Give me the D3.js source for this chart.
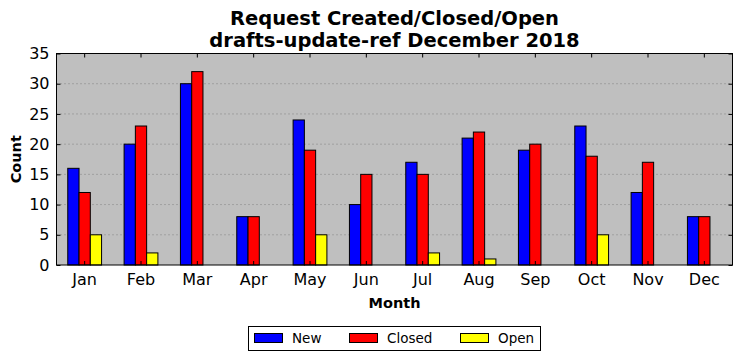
<!DOCTYPE html>
<html><head><meta charset="utf-8">
<script src="https://cdn.jsdelivr.net/npm/d3@7"></script>
<style>body{margin:0;background:#fff;} svg{display:block;font-family:"DejaVu Sans",sans-serif;}</style>
</head><body>
<script>
const months = ["Jan","Feb","Mar","Apr","May","Jun","Jul","Aug","Sep","Oct","Nov","Dec"];
const newVals = [16,20,30,8,24,10,17,21,19,23,12,8];
const closedVals = [12,23,32,8,19,15,15,22,20,18,17,8];
const openVals = [5,2,0,0,5,0,2,1,0,5,0,0];
const seriesNames = ["New","Closed","Open"];
const seriesColors = ["#0000ff","#ff0000","#ffff00"];
const yTicks = [0,5,10,15,20,25,30,35];
const titleLines = ["Request Created/Closed/Open","drafts-update-ref December 2018"];

(function(){
const W=742,H=361;
const m={l:56.5,r:9.5,t:53.5,b:96};
const svg=d3.select("body").append("svg").attr("width",W).attr("height",H);
const pw=W-m.l-m.r, ph=H-m.t-m.b;
const x=d3.scaleBand().domain(months).range([m.l,m.l+pw]).padding(0);
const y=d3.scaleLinear().domain([0,35]).range([m.t+ph,m.t]);
const sub=d3.scaleBand().domain(seriesNames).range([x.bandwidth()*0.2,x.bandwidth()*0.8]).padding(0);

svg.append("rect").attr("x",m.l).attr("y",m.t).attr("width",pw).attr("height",ph).attr("fill","#bfbfbf");
svg.append("g").selectAll("line").data(yTicks.slice(1,-1)).join("line")
 .attr("x1",m.l).attr("x2",m.l+pw).attr("y1",d=>y(d)).attr("y2",d=>y(d))
 .attr("stroke","#808080").attr("stroke-width",1).attr("stroke-dasharray","1,3");

const series=[newVals,closedVals,openVals];
series.forEach((vals,si)=>{
  svg.append("g").selectAll("rect").data(vals).join("rect")
   .attr("x",(d,i)=>x(months[i])+sub(seriesNames[si]))
   .attr("y",d=>y(d)).attr("width",sub.bandwidth()).attr("height",d=>y(0)-y(d))
   .attr("fill",seriesColors[si]).attr("stroke","#000").attr("stroke-width",1);
});

const gLeft=svg.append("g").attr("transform",`translate(${m.l},0)`)
 .call(d3.axisLeft(y).tickValues(yTicks).tickSize(-4).tickPadding(7).tickFormat(d3.format("d")));
const gRight=svg.append("g").attr("transform",`translate(${m.l+pw},0)`)
 .call(d3.axisRight(y).tickValues(yTicks).tickSize(-4).tickFormat(""));
const gBottom=svg.append("g").attr("transform",`translate(0,${m.t+ph})`)
 .call(d3.axisBottom(x).tickSize(-4).tickPadding(9));
const gTop=svg.append("g").attr("transform",`translate(0,${m.t})`)
 .call(d3.axisTop(x).tickSize(-4).tickFormat(""));
[gLeft,gRight,gBottom,gTop].forEach(g=>{g.select(".domain").remove();g.selectAll("line").attr("stroke","#000");
 g.selectAll("text").attr("font-size",16).attr("font-family","DejaVu Sans").attr("fill","#000");});
svg.append("rect").attr("x",m.l).attr("y",m.t).attr("width",pw).attr("height",ph).attr("fill","none").attr("stroke","#000").attr("stroke-width",1);

titleLines.forEach((t,i)=>svg.append("text").attr("x",m.l+pw/2).attr("y",24.5+i*22).attr("text-anchor","middle")
 .attr("font-size",19.5).attr("font-weight","bold").text(t));
svg.append("text").attr("x",m.l+pw/2).attr("y",308).attr("text-anchor","middle").attr("font-size",14.5).attr("font-weight","bold").text("Month");
svg.append("text").attr("transform",`translate(21,${m.t+ph/2}) rotate(-90)`).attr("text-anchor","middle").attr("font-size",14.5).attr("font-weight","bold").text("Count");

const lg=svg.append("g");
lg.append("rect").attr("x",248.5).attr("y",326.5).attr("width",292).attr("height",24).attr("fill","#fff").attr("stroke","#000");
const lx=[254,349,460];
seriesNames.forEach((n,i)=>{
  lg.append("rect").attr("x",lx[i]+0.5).attr("y",333.5).attr("width",28).attr("height",9).attr("fill",seriesColors[i]).attr("stroke","#000");
  lg.append("text").attr("x",lx[i]+38).attr("y",343).attr("font-size",13.5).text(n);
});
})();
</script>
</body></html>
